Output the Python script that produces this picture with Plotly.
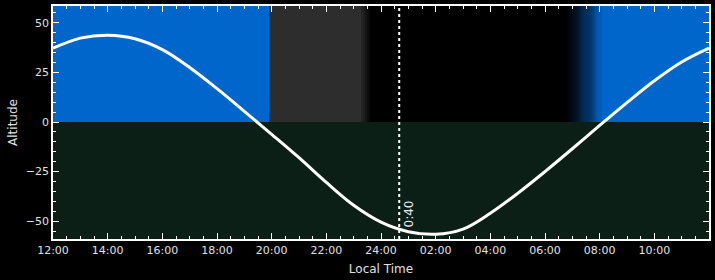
import plotly.graph_objects as go

# hours after 12:00 local time
hours = [0, 1, 2, 3, 4, 5, 6, 7, 8, 9, 10, 11, 12, 13, 14, 15, 16, 17, 18, 19, 20, 21, 22, 23, 24]
altitude = [37.2, 42.3, 43.8, 42.0, 36.5, 27.5, 16.8, 5.4, -6.2, -18.0, -30.5, -42.0, -50.5, -55.3, -56.6, -54.0,
            -46.0, -36.0, -25.0, -13.5, -1.7, 9.8, 20.8, 30.3, 37.3]
tick_vals = [0, 2, 4, 6, 8, 10, 12, 14, 16, 18, 20, 22]
tick_text = ["12:00", "14:00", "16:00", "18:00", "20:00", "22:00", "24:00",
             "02:00", "04:00", "06:00", "08:00", "10:00"]
# sky periods (hours after 12:00)
sunset = 7.93
twilight_end_start, twilight_end_stop = 11.29, 11.65
dawn_start, dawn_stop = 18.70, 20.07
marker_time = 12.667
marker_label = "0:40"

YMIN, YMAX = -59, 58.5
BLUE = (0, 102, 204)
GRAY = (45, 45, 45)
BLACK = (0, 0, 0)
GROUND = "rgb(12,31,22)"

shapes = []
def rect(x0, x1, y0, y1, color):
    shapes.append(dict(type="rect", xref="x", yref="y", x0=x0, x1=x1, y0=y0, y1=y1,
                       fillcolor=color, line=dict(width=0), layer="below"))

def rgb(c):
    return "rgb(%d,%d,%d)" % tuple(int(round(v)) for v in c)

rect(0, 24, YMIN, 0, GROUND)
rect(0, sunset, 0, YMAX, rgb(BLUE))
rect(sunset, twilight_end_start, 0, YMAX, rgb(GRAY))
rect(twilight_end_stop, dawn_start, 0, YMAX, rgb(BLACK))
rect(dawn_stop, 24, 0, YMAX, rgb(BLUE))

n = 16
w = (twilight_end_stop - twilight_end_start) / n
for i in range(n):
    t = (i + 0.5) / n
    c = [GRAY[k] * (1 - t) + BLACK[k] * t for k in range(3)]
    rect(twilight_end_start + i * w, twilight_end_start + (i + 1) * w + 0.01, 0, YMAX, rgb(c))

n = 40
w = (dawn_stop - dawn_start) / n
for i in range(n):
    t = ((i + 0.5) / n) ** 1.3
    c = [BLACK[k] * (1 - t) + BLUE[k] * t for k in range(3)]
    rect(dawn_start + i * w, dawn_start + (i + 1) * w + 0.01, 0, YMAX, rgb(c))

# marker line
shapes.append(dict(type="line", xref="x", yref="y", x0=marker_time, x1=marker_time, y0=YMIN, y1=YMAX,
                   line=dict(color="white", width=2, dash="dot"), layer="above"))

fig = go.Figure()
fig.add_trace(go.Scatter(x=hours, y=altitude, mode="lines",
                         line=dict(color="white", width=3, shape="spline", smoothing=1.0),
                         hoverinfo="skip", showlegend=False))

fig.add_annotation(x=marker_time, y=-46.5, xref="x", yref="y", text=marker_label, textangle=-90,
                   showarrow=False, xshift=10, font=dict(color="#e8e8e8", size=12, family="DejaVu Sans"))

axis_common = dict(showline=True, linecolor="white", linewidth=1.5, mirror="ticks", ticks="inside",
                   tickcolor="white", showgrid=False, zeroline=False,
                   tickfont=dict(color="#e0e0e0", size=11, family="DejaVu Sans"))

fig.update_layout(
    width=715, height=280,
    margin=dict(l=53, r=6, t=4, b=41),
    paper_bgcolor="black", plot_bgcolor="black",
    shapes=shapes,
    xaxis=dict(range=[0, 24], tickvals=tick_vals, ticktext=tick_text, ticklen=6, tickwidth=1,
               minor=dict(dtick=0.5, tick0=0, ticks="inside", ticklen=3, tickcolor="white"),
               title=dict(text="Local Time", font=dict(color="#e0e0e0", size=12, family="DejaVu Sans"),
                          standoff=9),
               **axis_common),
    yaxis=dict(range=[YMIN, YMAX], tickvals=[-50, -25, 0, 25, 50], ticklen=6, tickwidth=1,
               minor=dict(dtick=5, tick0=0, ticks="inside", ticklen=3, tickcolor="white"),
               title=dict(text="Altitude", font=dict(color="#e0e0e0", size=12, family="DejaVu Sans"),
                          standoff=6),
               **axis_common),
)

fig.write_html("out.html")
